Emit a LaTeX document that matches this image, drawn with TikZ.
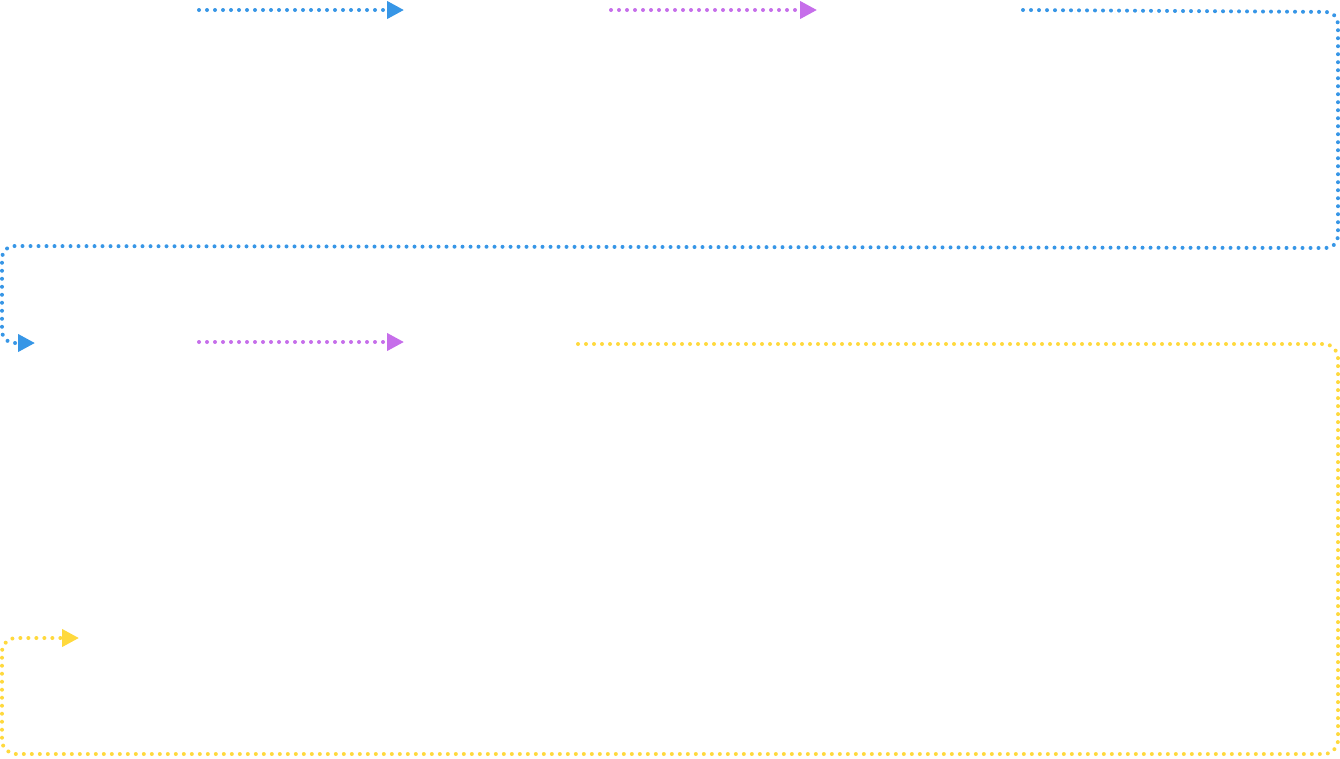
\documentclass[tikz,border=0pt]{standalone}
\usetikzlibrary{arrows.meta}
\definecolor{flowblue}{RGB}{55,150,230}
\definecolor{flowpurple}{RGB}{198,110,234}
\definecolor{flowyellow}{RGB}{255,217,61}
\begin{document}
\begin{tikzpicture}[x=1pt,y=-1pt,
  flow/.style={line width=4pt, line cap=round, dash pattern=on 0pt off 8pt,
    -{Triangle[length=17pt,width=17pt]}, rounded corners=12pt},
  blueflow/.style={flow, draw=flowblue},
  purpleflow/.style={flow, draw=flowpurple},
  yellowflow/.style={flow, draw=flowyellow}]
\useasboundingbox (0,0) rectangle (1340,758);
% connector end points
\coordinate (a-out) at (199,10);
\coordinate (b-in) at (404,10);
\coordinate (b-out) at (611,10);
\coordinate (c-in) at (817,10);
\coordinate (c-out) at (1023,10);
\coordinate (d-in) at (35,343);
\coordinate (d-out) at (199,342);
\coordinate (e-in) at (404,342);
\coordinate (e-out) at (578,344);
\coordinate (f-in) at (79,638);
% connectors
\draw[blueflow] (a-out) -- (b-in);
\draw[purpleflow] (b-out) -- (c-in);
\draw[blueflow] (c-out) -- (1338,12) -- (1338,248) -- (2,246) -- (2,343) -- (d-in);
\draw[purpleflow] (d-out) -- (e-in);
\draw[yellowflow, rounded corners=14pt] (e-out) -- (1338,344) -- (1338,754) -- (2,754) -- (2,638) -- (f-in);
\end{tikzpicture}
\end{document}
